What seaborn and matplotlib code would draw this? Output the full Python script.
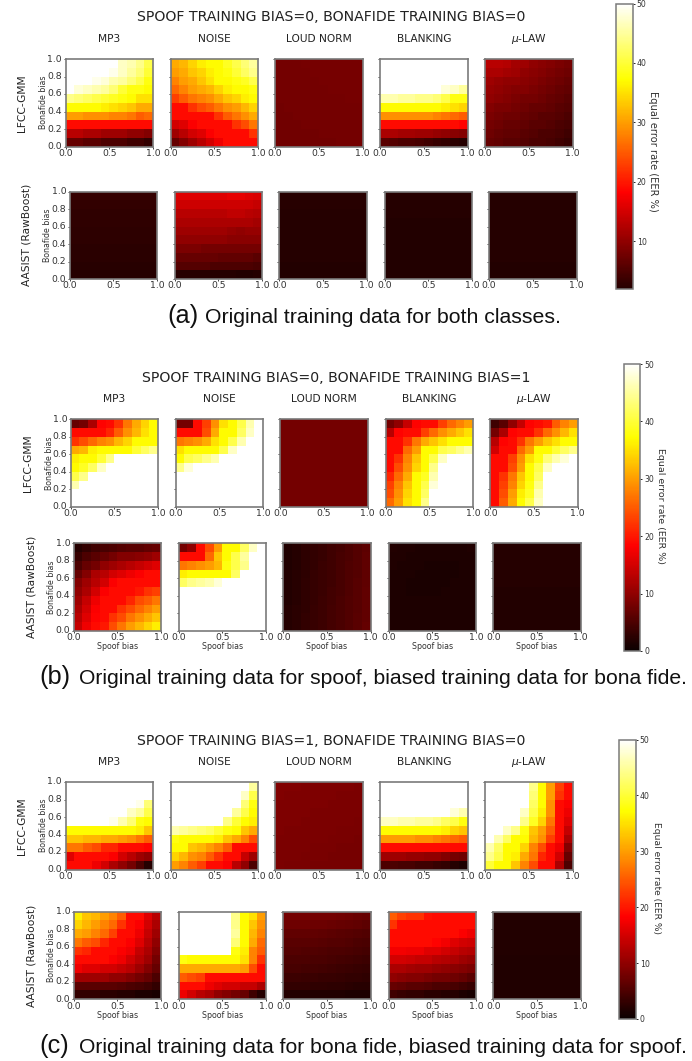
#!/usr/bin/env python3
# plot.py
# Three stacked heatmap grids: EER (%) against spoof / bonafide bias, LFCC-GMM and AASIST, five codecs.

import numpy as np
import seaborn as sns
import matplotlib
matplotlib.use("Agg")
import matplotlib.pyplot as plt

FIG_W, FIG_H = 692, 1061

CODECS = ["MP3", "NOISE", "LOUD NORM", "BLANKING", r"$\mu$-LAW"]
MODELS = ["LFCC-GMM", "AASIST (RawBoost)"]
TITLES = [
    "SPOOF TRAINING BIAS=0, BONAFIDE TRAINING BIAS=0",
    "SPOOF TRAINING BIAS=0, BONAFIDE TRAINING BIAS=1",
    "SPOOF TRAINING BIAS=1, BONAFIDE TRAINING BIAS=0",
]
CAP_TAGS = ["(a)", "(b)", "(c)"]
CAP_TEXT = [
    "Original training data for both classes.",
    "Original training data for spoof, biased training data for bona fide.",
    "Original training data for bona fide, biased training data for spoof.",
]
BIAS_TICKS = ["0.0", "0.2", "0.4", "0.6", "0.8", "1.0"]
BAR_TICKS = [0, 10, 20, 30, 40, 50]

# EER values, rows listed top (bonafide bias 1.0) to bottom, columns spoof bias 0 to 1
# ---- (a) ----
a_lfcc_mp3 = [
    [50, 50, 50, 50, 50, 50, 47, 46, 44, 41],
    [50, 50, 50, 50, 50, 49, 47, 45, 43, 40],
    [50, 50, 50, 49, 48, 46, 45, 43, 41, 38],
    [50, 48, 47, 46, 45, 43, 40, 38, 38, 37],
    [44, 43, 42, 41, 40, 39, 38, 37, 35, 35],
    [37, 37, 37, 37, 36, 35, 34, 33, 31, 31],
    [30, 30, 29, 29, 29, 28, 28, 27, 25, 26],
    [19, 19, 19, 19, 19, 19, 19, 19, 19, 19],
    [13, 13, 12, 12, 11, 11, 11, 10, 10, 9],
    [7, 7, 6, 6, 5, 5, 5, 4, 4, 3],
]
a_lfcc_noise = [
    [31, 32, 34, 36, 37, 37, 39, 41, 43, 45],
    [30, 31, 33, 34, 36, 37, 38, 40, 42, 44],
    [28, 30, 31, 33, 35, 37, 37, 38, 39, 41],
    [26, 28, 30, 31, 32, 34, 36, 37, 37, 38],
    [23, 25, 27, 28, 29, 31, 33, 34, 36, 37],
    [19, 19, 22, 24, 25, 27, 29, 30, 32, 34],
    [19, 19, 19, 19, 19, 22, 25, 27, 29, 31],
    [15, 16, 18, 19, 19, 19, 19, 22, 24, 27],
    [11, 13, 15, 16, 18, 19, 19, 19, 19, 22],
    [7, 9, 11, 13, 15, 17, 19, 19, 19, 19],
]
a_lfcc_loud = [
    [8.0, 8.0, 8.0, 8.1, 8.1, 8.1, 8.2, 8.2, 8.2, 8.2],
    [8.0, 8.0, 8.0, 8.0, 8.1, 8.1, 8.1, 8.2, 8.2, 8.2],
    [7.9, 8.0, 8.0, 8.0, 8.0, 8.1, 8.1, 8.1, 8.1, 8.2],
    [7.9, 7.9, 8.0, 8.0, 8.0, 8.0, 8.1, 8.1, 8.1, 8.1],
    [7.9, 7.9, 7.9, 8.0, 8.0, 8.0, 8.0, 8.0, 8.1, 8.1],
    [7.8, 7.9, 7.9, 7.9, 8.0, 8.0, 8.0, 8.0, 8.0, 8.0],
    [7.8, 7.8, 7.9, 7.9, 7.9, 7.9, 8.0, 8.0, 8.0, 8.0],
    [7.8, 7.8, 7.8, 7.9, 7.9, 7.9, 7.9, 7.9, 8.0, 8.0],
    [7.7, 7.8, 7.8, 7.8, 7.8, 7.9, 7.9, 7.9, 7.9, 7.9],
    [7.7, 7.7, 7.8, 7.8, 7.8, 7.8, 7.8, 7.9, 7.9, 7.9],
]
a_lfcc_blank = [
    [50, 50, 50, 50, 50, 50, 50, 50, 50, 50],
    [50, 50, 50, 50, 50, 50, 50, 50, 50, 50],
    [50, 50, 50, 50, 50, 50, 50, 50, 50, 50],
    [50, 50, 50, 50, 50, 50, 50, 48, 47, 45],
    [46, 46, 45, 45, 44, 44, 43, 41, 38, 38],
    [37, 37, 37, 37, 37, 37, 37, 36, 35, 34],
    [29, 29, 29, 29, 29, 29, 28, 27, 26, 25],
    [19, 19, 19, 19, 19, 19, 19, 19, 19, 18.5],
    [12, 12, 11.5, 11.5, 11, 11, 10.5, 10, 9.5, 9],
    [6, 5.5, 5, 5, 4.5, 4, 3.5, 3, 2.5, 2],
]
a_lfcc_mulaw = [
    [13, 13, 12.5, 11.5, 11, 10, 9.5, 9, 8.5, 8],
    [12, 12, 11.5, 11, 10, 9.5, 9, 8.5, 8, 7.5],
    [11, 10.5, 10, 10, 9.5, 9, 8.5, 8, 7.5, 7],
    [10.5, 10, 9.5, 9, 9, 8.5, 8, 7.5, 7, 6.5],
    [10, 9.5, 9, 8.5, 8, 8, 7.5, 7, 6.5, 6],
    [9, 8.5, 8.5, 8, 7.5, 7, 7, 6.5, 6, 5.5],
    [8.5, 8, 7.5, 7.5, 7, 6.5, 6, 6, 5.5, 5],
    [8, 7.5, 7, 7, 6.5, 6, 6, 5.5, 5, 4.5],
    [7.5, 7, 6.5, 6.5, 6, 5.5, 5, 5, 4.5, 4],
    [7, 6.5, 6, 6, 5.5, 5, 5, 4.5, 4, 3.5],
]
a_aasist_mp3 = [
    [3.2, 3.2, 3.2, 3.2, 3.2, 3.2, 3.2, 3.2, 3.2, 3.2],
    [3.0, 3.0, 3.0, 3.0, 3.0, 3.0, 3.0, 3.0, 3.0, 3.0],
    [2.9, 2.9, 2.9, 2.9, 2.9, 2.9, 2.9, 2.9, 2.9, 2.9],
    [2.8, 2.8, 2.8, 2.8, 2.8, 2.8, 2.8, 2.8, 2.8, 2.8],
    [2.7, 2.7, 2.7, 2.7, 2.7, 2.7, 2.7, 2.7, 2.7, 2.7],
    [2.6, 2.6, 2.6, 2.6, 2.6, 2.6, 2.6, 2.6, 2.6, 2.6],
    [2.5, 2.5, 2.5, 2.5, 2.5, 2.5, 2.5, 2.5, 2.5, 2.5],
    [2.4, 2.4, 2.4, 2.4, 2.4, 2.4, 2.4, 2.4, 2.4, 2.4],
    [2.2, 2.2, 2.2, 2.2, 2.2, 2.2, 2.2, 2.2, 2.2, 2.2],
    [2.0, 2.0, 2.0, 2.0, 2.0, 2.0, 2.0, 2.0, 2.0, 2.0],
]
a_aasist_noise = [
    [16, 16, 16, 16, 16, 16, 16.5, 16.5, 16, 15.5],
    [14.5, 14.5, 14.5, 14.5, 14.5, 14.5, 14.5, 14.5, 14.5, 14],
    [13, 13, 13, 13, 13, 13, 13.5, 13.5, 13, 12.5],
    [12, 12, 12, 12, 12, 12, 12, 12, 12, 11.5],
    [11, 11, 11, 11, 11, 11, 10.5, 10, 10.5, 10.5],
    [10, 10, 10, 10, 10, 10, 9.5, 9.5, 9.5, 9.5],
    [8.5, 8.5, 8.5, 8, 8, 8, 8, 8, 8, 8],
    [7, 7, 7, 7, 7, 6.5, 6.5, 6.5, 6.5, 6],
    [5.5, 5.5, 5.5, 5.5, 5, 5, 5, 5, 5, 4.5],
    [2.2, 2.2, 2.2, 2.2, 2.0, 2.0, 2.0, 1.8, 1.8, 2.0],
]
a_aasist_loud = [
    [2.2, 2.2, 2.2, 2.2, 2.2, 2.2, 2.2, 2.2, 2.2, 2.2],
    [2.2, 2.2, 2.2, 2.2, 2.2, 2.2, 2.2, 2.2, 2.2, 2.2],
    [2.1, 2.1, 2.1, 2.1, 2.1, 2.1, 2.1, 2.1, 2.1, 2.1],
    [2.1, 2.1, 2.1, 2.1, 2.1, 2.1, 2.1, 2.1, 2.1, 2.1],
    [2.1, 2.1, 2.1, 2.1, 2.1, 2.1, 2.1, 2.1, 2.1, 2.1],
    [2.0, 2.0, 2.0, 2.0, 2.0, 2.0, 2.0, 2.0, 2.0, 2.0],
    [2.0, 2.0, 2.0, 2.0, 2.0, 2.0, 2.0, 2.0, 2.0, 2.0],
    [2.0, 2.0, 2.0, 2.0, 2.0, 2.0, 2.0, 2.0, 2.0, 2.0],
    [1.9, 1.9, 1.9, 1.9, 1.9, 1.9, 1.9, 1.9, 1.9, 1.9],
    [1.9, 1.9, 1.9, 1.9, 1.9, 1.9, 1.9, 1.9, 1.9, 1.9],
]
a_aasist_blank = [
    [2.0, 2.0, 2.0, 2.0, 2.0, 2.0, 2.0, 2.0, 2.0, 2.0],
    [2.0, 2.0, 2.0, 2.0, 2.0, 2.0, 2.0, 2.0, 2.0, 2.0],
    [2.0, 2.0, 2.0, 2.0, 2.0, 2.0, 2.0, 2.0, 2.0, 2.0],
    [1.9, 1.9, 1.9, 1.9, 1.9, 1.9, 1.9, 1.9, 1.9, 1.9],
    [1.9, 1.9, 1.9, 1.9, 1.9, 1.9, 1.9, 1.9, 1.9, 1.9],
    [1.9, 1.9, 1.9, 1.9, 1.9, 1.9, 1.9, 1.9, 1.9, 1.9],
    [1.9, 1.9, 1.9, 1.9, 1.9, 1.9, 1.9, 1.9, 1.9, 1.9],
    [1.8, 1.8, 1.8, 1.8, 1.8, 1.8, 1.8, 1.8, 1.8, 1.8],
    [1.8, 1.8, 1.8, 1.8, 1.8, 1.8, 1.8, 1.8, 1.8, 1.8],
    [1.8, 1.8, 1.8, 1.8, 1.8, 1.8, 1.8, 1.8, 1.8, 1.8],
]
a_aasist_mulaw = [
    [2.1, 2.1, 2.1, 2.1, 2.1, 2.1, 2.1, 2.1, 2.1, 2.1],
    [2.1, 2.1, 2.1, 2.1, 2.1, 2.1, 2.1, 2.1, 2.1, 2.1],
    [2.1, 2.1, 2.1, 2.1, 2.1, 2.1, 2.1, 2.1, 2.1, 2.1],
    [2.0, 2.0, 2.0, 2.0, 2.0, 2.0, 2.0, 2.0, 2.0, 2.0],
    [2.0, 2.0, 2.0, 2.0, 2.0, 2.0, 2.0, 2.0, 2.0, 2.0],
    [2.0, 2.0, 2.0, 2.0, 2.0, 2.0, 2.0, 2.0, 2.0, 2.0],
    [2.0, 2.0, 2.0, 2.0, 2.0, 2.0, 2.0, 2.0, 2.0, 2.0],
    [2.0, 2.0, 2.0, 2.0, 2.0, 2.0, 2.0, 2.0, 2.0, 2.0],
    [1.9, 1.9, 1.9, 1.9, 1.9, 1.9, 1.9, 1.9, 1.9, 1.9],
    [1.9, 1.9, 1.9, 1.9, 1.9, 1.9, 1.9, 1.9, 1.9, 1.9],
]
# ---- (b) ----
b_lfcc_mp3 = [
    [7, 8, 12, 18.5, 19, 22, 27, 31, 34, 37],
    [19, 19, 19, 19, 21, 25, 29, 32, 35, 37],
    [22, 24, 26, 28, 29, 32, 34, 37, 37, 37],
    [31, 32, 36, 37, 37, 37, 37, 40, 42, 44],
    [36, 37, 37, 40, 44, 50, 50, 50, 50, 50],
    [37, 39, 42, 47, 50, 50, 50, 50, 50, 50],
    [41, 44, 50, 50, 50, 50, 50, 50, 50, 50],
    [46, 50, 50, 50, 50, 50, 50, 50, 50, 50],
    [50, 50, 50, 50, 50, 50, 50, 50, 50, 50],
    [50, 50, 50, 50, 50, 50, 50, 50, 50, 50],
]
b_lfcc_noise = [
    [8, 8, 19, 23, 29, 35, 37, 41, 46, 50],
    [19, 19, 19, 24, 31, 37, 37, 42, 47, 50],
    [27, 28, 29, 31, 35, 37, 41, 46, 50, 50],
    [35, 37, 37, 37, 37, 41, 47, 50, 50, 50],
    [37, 41, 42, 44, 46, 50, 50, 50, 50, 50],
    [44, 48, 50, 50, 50, 50, 50, 50, 50, 50],
    [50, 50, 50, 50, 50, 50, 50, 50, 50, 50],
    [50, 50, 50, 50, 50, 50, 50, 50, 50, 50],
    [50, 50, 50, 50, 50, 50, 50, 50, 50, 50],
    [50, 50, 50, 50, 50, 50, 50, 50, 50, 50],
]
b_lfcc_loud = [
    [8.0, 8.0, 8.0, 8.0, 8.0, 8.0, 8.0, 8.0, 8.0, 8.0],
    [8.0, 8.0, 8.0, 8.0, 8.0, 8.0, 8.0, 8.0, 8.0, 8.0],
    [8.0, 8.0, 8.0, 8.0, 8.0, 8.0, 8.0, 8.0, 8.0, 8.0],
    [8.0, 8.0, 8.0, 8.0, 8.0, 8.0, 8.0, 8.0, 8.0, 8.0],
    [8.0, 8.0, 8.0, 8.0, 8.0, 8.0, 8.0, 8.0, 8.0, 8.0],
    [7.9, 7.9, 7.9, 8.0, 8.0, 8.0, 8.0, 8.0, 8.0, 8.0],
    [7.9, 7.9, 7.9, 7.9, 8.0, 8.0, 8.0, 8.0, 8.0, 8.0],
    [7.9, 7.9, 7.9, 7.9, 8.0, 8.0, 8.0, 8.0, 8.0, 8.0],
    [7.9, 7.9, 7.9, 7.9, 7.9, 8.0, 8.0, 8.0, 8.0, 8.0],
    [7.9, 7.9, 7.9, 7.9, 7.9, 8.0, 8.0, 8.0, 8.0, 8.0],
]
b_lfcc_blank = [
    [8, 10, 14, 18.5, 19, 19, 23, 26, 28, 30],
    [13, 18.5, 19, 19, 23, 26, 29, 31, 33, 35],
    [19, 19, 22, 27, 31, 33, 35, 37, 37, 37],
    [19, 19, 26, 30, 37, 37, 41, 42, 44, 46],
    [19, 22, 28, 33, 37, 41, 47, 50, 50, 50],
    [19, 24, 29, 34, 37, 44, 50, 50, 50, 50],
    [21, 26, 31, 37, 39, 46, 50, 50, 50, 50],
    [23, 28, 33, 37, 41, 48, 50, 50, 50, 50],
    [24, 29, 34, 37, 42, 50, 50, 50, 50, 50],
    [26, 30, 35, 37, 44, 50, 50, 50, 50, 50],
]
b_lfcc_mulaw = [
    [4, 6, 10, 14, 18.5, 19, 20, 25, 28, 30],
    [8, 12, 18.5, 19, 19, 22, 26, 29, 32, 35],
    [13, 18.5, 19, 22, 27, 30, 33, 35, 37, 37],
    [15, 19, 19, 26, 30, 37, 37, 40, 42, 44],
    [19, 19, 23, 29, 35, 38, 43, 46, 48, 50],
    [19, 19, 24, 30, 37, 41, 47, 50, 50, 50],
    [19, 22, 27, 33, 37, 42, 50, 50, 50, 50],
    [19, 23, 28, 34, 38, 44, 50, 50, 50, 50],
    [19, 24, 30, 36, 39, 46, 50, 50, 50, 50],
    [19, 25, 31, 37, 41, 47, 50, 50, 50, 50],
]
b_aasist_mp3 = [
    [2, 3, 4, 4.5, 5, 5.5, 6, 6, 6.5, 7],
    [3.5, 5, 6, 7, 8, 9, 9, 9.5, 10, 11],
    [5, 7, 8, 10, 11, 12, 13, 14, 15, 16],
    [7, 9, 12, 13, 15, 16, 17, 18, 19, 19],
    [9, 11, 13, 15, 18, 19, 19, 19, 19, 19],
    [10, 12, 15, 18, 19, 19, 19, 20, 22, 23],
    [11, 14, 17, 19, 19, 19, 21, 24, 25, 27],
    [12, 15, 18, 19, 19, 22, 24, 26, 28, 30],
    [13, 16, 18.5, 19, 22, 24, 27, 29, 31, 33],
    [14, 17, 19, 20, 24, 27, 30, 32, 34, 36],
]
b_aasist_noise = [
    [8, 10, 19, 24, 30, 37, 37, 42, 47, 50],
    [19, 19, 19, 26, 33, 37, 41, 45, 50, 50],
    [27, 28, 29, 30, 32, 38, 41, 44, 50, 50],
    [36, 37, 37, 37, 37, 37, 42, 50, 50, 50],
    [42, 44, 45, 46, 48, 50, 50, 50, 50, 50],
    [50, 50, 50, 50, 50, 50, 50, 50, 50, 50],
    [50, 50, 50, 50, 50, 50, 50, 50, 50, 50],
    [50, 50, 50, 50, 50, 50, 50, 50, 50, 50],
    [50, 50, 50, 50, 50, 50, 50, 50, 50, 50],
    [50, 50, 50, 50, 50, 50, 50, 50, 50, 50],
]
b_aasist_loud = [
    [1.6, 2.0, 2.6, 3.0, 3.5, 4.0, 4.4, 5.0, 5.5, 6.2],
    [1.7, 2.1, 2.6, 3.1, 3.5, 4.0, 4.5, 5.0, 5.5, 6.3],
    [1.7, 2.1, 2.7, 3.1, 3.6, 4.0, 4.5, 5.1, 5.6, 6.3],
    [1.8, 2.2, 2.7, 3.2, 3.6, 4.1, 4.5, 5.1, 5.6, 6.4],
    [1.8, 2.2, 2.8, 3.2, 3.7, 4.1, 4.6, 5.2, 5.7, 6.4],
    [1.9, 2.3, 2.8, 3.3, 3.7, 4.2, 4.6, 5.2, 5.7, 6.5],
    [1.9, 2.3, 2.9, 3.3, 3.8, 4.2, 4.7, 5.3, 5.8, 6.5],
    [2.0, 2.4, 2.9, 3.4, 3.8, 4.3, 4.7, 5.3, 5.8, 6.6],
    [2.0, 2.4, 3.0, 3.4, 3.9, 4.3, 4.8, 5.4, 5.9, 6.6],
    [2.1, 2.5, 3.0, 3.5, 3.9, 4.4, 4.8, 5.4, 5.9, 6.7],
]
b_aasist_blank = [
    [1.8, 1.7, 1.6, 1.5, 1.5, 1.4, 1.4, 1.5, 1.5, 1.6],
    [1.7, 1.6, 1.5, 1.5, 1.4, 1.4, 1.4, 1.4, 1.5, 1.5],
    [1.6, 1.5, 1.4, 1.4, 1.3, 1.3, 1.3, 1.3, 1.4, 1.5],
    [1.5, 1.4, 1.4, 1.3, 1.3, 1.3, 1.3, 1.3, 1.4, 1.4],
    [1.5, 1.4, 1.3, 1.3, 1.3, 1.3, 1.3, 1.4, 1.4, 1.4],
    [1.5, 1.4, 1.3, 1.3, 1.3, 1.3, 1.4, 1.4, 1.4, 1.4],
    [1.5, 1.4, 1.4, 1.4, 1.4, 1.4, 1.4, 1.4, 1.4, 1.4],
    [1.5, 1.4, 1.4, 1.4, 1.4, 1.4, 1.4, 1.4, 1.4, 1.4],
    [1.5, 1.4, 1.4, 1.4, 1.4, 1.4, 1.4, 1.4, 1.4, 1.4],
    [1.5, 1.4, 1.4, 1.4, 1.4, 1.4, 1.4, 1.4, 1.4, 1.4],
]
b_aasist_mulaw = [
    [2.0, 2.0, 2.0, 2.0, 2.0, 2.0, 2.0, 2.0, 2.0, 2.0],
    [2.0, 2.0, 2.0, 2.0, 2.0, 2.0, 2.0, 2.0, 2.0, 2.0],
    [2.0, 2.0, 2.0, 2.0, 2.0, 2.0, 2.0, 2.0, 2.0, 2.0],
    [2.0, 2.0, 2.0, 2.0, 2.0, 2.0, 2.0, 2.0, 2.0, 2.0],
    [2.0, 2.0, 2.0, 2.0, 2.0, 2.0, 2.0, 2.0, 2.0, 2.0],
    [1.9, 1.9, 1.9, 1.9, 1.9, 1.9, 1.9, 1.9, 1.9, 1.9],
    [1.9, 1.9, 1.9, 1.9, 1.9, 1.9, 1.9, 1.9, 1.9, 1.9],
    [1.9, 1.9, 1.9, 1.9, 1.9, 1.9, 1.9, 1.9, 1.9, 1.9],
    [1.9, 1.9, 1.9, 1.9, 1.9, 1.9, 1.9, 1.9, 1.9, 1.9],
    [1.9, 1.9, 1.9, 1.9, 1.9, 1.9, 1.9, 1.9, 1.9, 1.9],
]
# ---- (c) ----
c_lfcc_mp3 = [
    [50, 50, 50, 50, 50, 50, 50, 50, 50, 50],
    [50, 50, 50, 50, 50, 50, 50, 50, 50, 50],
    [50, 50, 50, 50, 50, 50, 50, 50, 49, 43],
    [50, 50, 50, 50, 50, 50, 50, 47, 45, 41],
    [50, 50, 50, 50, 50, 49, 46, 43, 38, 37],
    [37, 37, 37, 37, 37, 37, 37, 37, 36, 33],
    [33, 33, 32, 32, 31, 31, 30, 29, 27, 25],
    [27, 27, 25, 24, 21, 21, 19, 19, 19, 18.5],
    [16, 19, 19, 19, 19, 18, 15, 13, 11, 10],
    [19, 19, 19, 17, 15, 12, 10, 8, 5, 2],
]
c_lfcc_noise = [
    [50, 50, 50, 50, 50, 50, 50, 50, 50, 45],
    [50, 50, 50, 50, 50, 50, 50, 50, 47, 41],
    [50, 50, 50, 50, 50, 50, 50, 50, 43, 38],
    [50, 50, 50, 50, 50, 50, 50, 45, 41, 37],
    [50, 50, 50, 50, 50, 50, 44, 40, 37, 36],
    [46, 45, 44, 43, 42, 40, 38, 37, 33, 31],
    [38, 37, 37, 37, 37, 36, 33, 31, 28, 24],
    [37, 37, 33, 32, 30, 28, 25, 19, 19, 19],
    [34, 32, 29, 28, 25, 22, 19, 19, 14, 11],
    [30, 28, 25, 23, 19, 19, 18, 13, 10, 5],
]
c_lfcc_loud = [
    [8.8, 8.8, 8.8, 8.7, 8.7, 8.7, 8.6, 8.6, 8.6, 8.5],
    [8.8, 8.7, 8.7, 8.7, 8.6, 8.6, 8.6, 8.5, 8.5, 8.5],
    [8.7, 8.7, 8.7, 8.6, 8.6, 8.6, 8.5, 8.5, 8.5, 8.4],
    [8.7, 8.6, 8.6, 8.6, 8.5, 8.5, 8.5, 8.4, 8.4, 8.4],
    [8.6, 8.6, 8.6, 8.5, 8.5, 8.5, 8.4, 8.4, 8.4, 8.3],
    [8.6, 8.5, 8.5, 8.5, 8.4, 8.4, 8.4, 8.3, 8.3, 8.3],
    [8.5, 8.5, 8.5, 8.4, 8.4, 8.4, 8.3, 8.3, 8.3, 8.2],
    [8.5, 8.4, 8.4, 8.4, 8.3, 8.3, 8.3, 8.2, 8.2, 8.2],
    [8.4, 8.4, 8.4, 8.3, 8.3, 8.3, 8.2, 8.2, 8.2, 8.1],
    [8.4, 8.3, 8.3, 8.3, 8.2, 8.2, 8.2, 8.1, 8.1, 8.1],
]
c_lfcc_blank = [
    [50, 50, 50, 50, 50, 50, 50, 50, 50, 50],
    [50, 50, 50, 50, 50, 50, 50, 50, 50, 50],
    [50, 50, 50, 50, 50, 50, 50, 50, 50, 50],
    [50, 50, 50, 50, 50, 50, 50, 50, 48, 46],
    [47, 47, 46, 46, 45, 45, 44, 42, 41, 38],
    [37, 37, 37, 37, 37, 37, 37, 36, 34, 33],
    [30, 30, 30, 30, 29, 29, 28, 27, 26, 25],
    [19, 19, 19, 19, 19, 19, 19, 19, 19, 19],
    [11, 11, 11, 10.5, 10.5, 10, 10, 9, 8, 7.5],
    [5, 5, 4.5, 4.5, 4, 4, 3.5, 3, 2, 1.5],
]
c_lfcc_mulaw = [
    [50, 50, 50, 50, 50, 44, 37, 30, 23, 19],
    [50, 50, 50, 50, 50, 43, 37, 30, 22, 19],
    [50, 50, 50, 50, 50, 42, 37, 29, 19, 18],
    [50, 50, 50, 50, 47, 41, 36, 29, 19, 17],
    [50, 50, 50, 50, 44, 39, 34, 27, 19, 16],
    [50, 50, 47, 44, 38, 33, 30, 25, 19, 14],
    [50, 46, 42, 37, 37, 32, 29, 23, 19, 12],
    [46, 42, 37, 37, 34, 28, 24, 19, 17, 9],
    [44, 41, 37, 36, 31, 27, 21, 19, 15, 7],
    [40, 37, 37, 33, 28, 24, 19, 19, 12, 5],
]
c_aasist_mp3 = [
    [36, 33, 32, 30, 28, 25, 19, 19, 16, 13],
    [34, 32, 30, 28, 26, 22, 19, 18, 15, 12],
    [31, 30, 28, 26, 23, 19, 19, 17, 14, 11],
    [27, 25, 24, 21, 19, 19, 18, 16, 13, 10],
    [22, 21, 19, 19, 19, 18, 17, 14, 12, 9],
    [19, 19, 19, 19, 18, 17, 15, 13, 11, 8],
    [17, 16, 16, 15, 15, 14, 13, 11, 9, 7],
    [11, 11, 11, 11, 10, 10, 9, 8, 7, 5],
    [6, 6, 6, 6, 6, 5.5, 5, 4.5, 4, 3],
    [3, 3, 3, 2.5, 2.5, 2, 2, 1.5, 1.5, 1],
]
c_aasist_noise = [
    [50, 50, 50, 50, 50, 50, 44, 37, 35, 30],
    [50, 50, 50, 50, 50, 50, 44, 37, 33, 29],
    [50, 50, 50, 50, 50, 50, 45, 37, 32, 28],
    [50, 50, 50, 50, 50, 50, 43, 37, 31, 26],
    [50, 50, 50, 50, 50, 50, 38, 36, 28, 25],
    [38, 37, 37, 37, 37, 37, 37, 35, 28, 22],
    [31, 31, 31, 31, 31, 31, 31, 30, 24, 19],
    [25, 24, 23, 19, 19, 19, 19, 19, 19, 19],
    [19, 19, 19, 17, 16, 15, 15, 14, 14, 12],
    [17, 15, 13, 12, 10, 9, 8, 7, 4, 2],
]
c_aasist_loud = [
    [8.0, 8.0, 8.0, 8.0, 8.0, 8.0, 7.8, 7.5, 7.2, 7.0],
    [7.5, 7.5, 7.5, 7.4, 7.4, 7.2, 7.0, 6.8, 6.5, 6.2],
    [6.5, 6.5, 6.5, 6.5, 6.4, 6.2, 6.0, 5.8, 5.6, 5.4],
    [6.0, 6.0, 6.0, 5.9, 5.8, 5.6, 5.5, 5.3, 5.0, 4.8],
    [5.5, 5.5, 5.4, 5.3, 5.2, 5.0, 4.9, 4.7, 4.5, 4.3],
    [5.0, 5.0, 4.9, 4.8, 4.7, 4.5, 4.4, 4.2, 4.0, 3.8],
    [4.5, 4.5, 4.4, 4.3, 4.2, 4.0, 3.9, 3.7, 3.5, 3.3],
    [3.8, 3.8, 3.7, 3.6, 3.5, 3.4, 3.3, 3.1, 3.0, 2.8],
    [3.0, 3.0, 3.0, 2.9, 2.8, 2.7, 2.6, 2.5, 2.3, 2.2],
    [1.8, 1.8, 1.8, 1.7, 1.7, 1.6, 1.6, 1.5, 1.5, 1.4],
]
c_aasist_blank = [
    [25, 23, 22, 22, 19.5, 19, 19, 19, 19, 19],
    [22, 19, 19, 19, 19, 19, 19, 19, 19, 19],
    [19, 19, 19, 19, 19, 19, 19, 19, 18, 17],
    [19, 19, 19, 19, 19, 18.5, 17.5, 16, 15, 14.5],
    [17.5, 17.5, 17, 17, 16, 16, 15, 14, 13, 12.5],
    [15, 15, 14.5, 14, 14, 13, 12.5, 12, 11, 10.5],
    [12, 12, 11.5, 11, 11, 10.5, 10, 9.5, 9, 8.5],
    [10, 9.5, 9, 9, 8.5, 8, 8, 7.5, 7, 6],
    [7, 6.5, 6, 6, 5.5, 5, 5, 4.5, 4, 3.5],
    [4, 3.5, 3, 3, 2.5, 2.5, 2, 2, 1.5, 1],
]
c_aasist_mulaw = [
    [1.8, 1.8, 1.8, 1.8, 1.8, 1.8, 1.8, 1.8, 1.8, 1.8],
    [1.8, 1.8, 1.8, 1.8, 1.8, 1.8, 1.8, 1.8, 1.8, 1.8],
    [1.8, 1.8, 1.8, 1.8, 1.8, 1.8, 1.8, 1.8, 1.8, 1.8],
    [1.8, 1.8, 1.8, 1.8, 1.8, 1.8, 1.8, 1.8, 1.8, 1.8],
    [1.8, 1.8, 1.8, 1.8, 1.8, 1.8, 1.8, 1.8, 1.8, 1.8],
    [1.7, 1.7, 1.7, 1.7, 1.7, 1.7, 1.7, 1.7, 1.7, 1.7],
    [1.7, 1.7, 1.7, 1.7, 1.7, 1.7, 1.7, 1.7, 1.7, 1.7],
    [1.7, 1.7, 1.7, 1.7, 1.7, 1.7, 1.7, 1.7, 1.7, 1.7],
    [1.7, 1.7, 1.7, 1.7, 1.7, 1.7, 1.7, 1.7, 1.7, 1.7],
    [1.7, 1.7, 1.7, 1.7, 1.7, 1.7, 1.7, 1.7, 1.7, 1.7],
]

GRID_A = [[a_lfcc_mp3, a_lfcc_noise, a_lfcc_loud, a_lfcc_blank, a_lfcc_mulaw],
          [a_aasist_mp3, a_aasist_noise, a_aasist_loud, a_aasist_blank, a_aasist_mulaw]]
GRID_B = [[b_lfcc_mp3, b_lfcc_noise, b_lfcc_loud, b_lfcc_blank, b_lfcc_mulaw],
          [b_aasist_mp3, b_aasist_noise, b_aasist_loud, b_aasist_blank, b_aasist_mulaw]]
GRID_C = [[c_lfcc_mp3, c_lfcc_noise, c_lfcc_loud, c_lfcc_blank, c_lfcc_mulaw],
          [c_aasist_mp3, c_aasist_noise, c_aasist_loud, c_aasist_blank, c_aasist_mulaw]]

# layout in reference pixels, one entry per sub-figure
PANEL_W = 87.5
PANEL_H = 87.5
LAYOUT = [
    dict(grid=GRID_A, title=(331, 17), top=(59, 191.5),
         lefts=([65.5, 170.5, 275, 380, 485], [69.7, 174.7, 279.3, 384.5, 489]),
         model_x=(21.5, 27), ylab_x=(43, 48), xlabel=False,
         bar=(616, 632.5, 3.5, 289), bar_min=2, bar_lab=(653, 151), bar_font=7.1,
         tag=(167, 323), cap_x=205, cap_size=15.3, tag_size=18.3),
    dict(grid=GRID_B, title=(336, 378), top=(419.3, 543.3),
         lefts=([70.7, 175.7, 280.3, 385.7, 490.3], [73.7, 178.7, 283.3, 388.7, 493.3]),
         model_x=(28, 31), ylab_x=(49, 52), xlabel=True,
         bar=(624, 640, 364, 651), bar_min=0, bar_lab=(660.5, 506), bar_font=6.8,
         tag=(39, 684), cap_x=79, cap_size=15.2, tag_size=18.3),
    dict(grid=GRID_C, title=(331, 741), top=(782, 911.7),
         lefts=([65.5, 170.5, 275, 380, 485], [73.7, 178.7, 283.3, 388.7, 493.3]),
         model_x=(21.5, 31), ylab_x=(43, 52), xlabel=True,
         bar=(619, 635.5, 739.5, 1019), bar_min=0, bar_lab=(656.5, 878), bar_font=6.6,
         tag=(39, 1053), cap_x=79, cap_size=15.2, tag_size=18.3),
]

TEXT_COL = "#333333"
EDGE_COL = "#7a7a7a"


def px_axes(fig, x0, y0, x1, y1):
    """Axes from reference pixel box, y measured from the top."""
    return fig.add_axes([x0 / FIG_W, 1 - y1 / FIG_H, (x1 - x0) / FIG_W, (y1 - y0) / FIG_H])


def stylize(ax, show_y):
    for side in ax.spines.values():
        side.set_visible(True)
        side.set_color(EDGE_COL)
        side.set_linewidth(1.2)
    ax.set_xticks([0, 5, 10])
    ax.set_xticklabels(["0.0", "0.5", "1.0"], rotation=0)
    ax.set_yticks([10, 8, 6, 4, 2, 0])
    ax.set_yticklabels(BIAS_TICKS if show_y else [""] * 6, rotation=0)
    ax.tick_params(length=1.5, width=0.7, color="#444444", labelsize=6.7, pad=1,
                   labelcolor=TEXT_COL, left=True, bottom=True)
    ax.tick_params(axis="x", pad=0.2)


def main():
    sns.set_theme(context="paper", style="white")
    plt.rcParams["font.family"] = ["DejaVu Sans"]

    fig = plt.figure(figsize=(FIG_W / 100, FIG_H / 100), dpi=100)

    for i, block in enumerate(LAYOUT):
        mesh = None
        for r, row in enumerate(block["grid"]):
            y0 = block["top"][r]
            for c, values in enumerate(row):
                x0 = block["lefts"][r][c]
                ax = px_axes(fig, x0, y0, x0 + PANEL_W, y0 + PANEL_H)
                sns.heatmap(np.array(values, dtype=float), ax=ax, cmap="hot",
                            vmin=0, vmax=50, cbar=False)
                mesh = ax.collections[0]
                stylize(ax, c == 0)
                if r == 0:
                    ax.set_title(CODECS[c], fontsize=7.7, color="#222222", pad=12.5)
                if block["xlabel"] and r == 1:
                    ax.set_xlabel("Spoof bias", fontsize=5.7, color=TEXT_COL, labelpad=0)
            # row labels sit at fixed pixel columns, not tied to tick label width
            mid = (y0 + PANEL_H / 2)
            fig.text(block["model_x"][r] / FIG_W, 1 - mid / FIG_H, MODELS[r], rotation=90,
                     ha="center", va="center", fontsize=7.7, color="#222222")
            fig.text(block["ylab_x"][r] / FIG_W, 1 - mid / FIG_H, "Bonafide bias", rotation=90,
                     ha="center", va="center", fontsize=5.7, color=TEXT_COL)

        fig.text(block["title"][0] / FIG_W, 1 - block["title"][1] / FIG_H,
                 TITLES[i], ha="center", va="center", fontsize=10.2, color="#222222")

        # colour bar
        bx0, bx1, by0, by1 = block["bar"]
        cax = px_axes(fig, bx0, by0, bx1, by1)
        cb = fig.colorbar(mesh, cax=cax, ticks=BAR_TICKS)
        cax.set_ylim(block["bar_min"], 50)
        cb.outline.set_edgecolor(EDGE_COL)
        cb.outline.set_linewidth(1.1)
        cax.tick_params(length=1.5, width=0.7, labelsize=5.6, pad=1.5, labelcolor=TEXT_COL)
        fig.text(block["bar_lab"][0] / FIG_W, 1 - block["bar_lab"][1] / FIG_H,
                 "Equal error rate (EER %)", rotation=270, ha="center", va="center",
                 fontsize=block["bar_font"], color=TEXT_COL)

        # caption
        fig.text(block["tag"][0] / FIG_W, 1 - block["tag"][1] / FIG_H, CAP_TAGS[i],
                 family="Liberation Sans", fontsize=block["tag_size"], va="baseline", color="#111111")
        fig.text(block["cap_x"] / FIG_W, 1 - block["tag"][1] / FIG_H, CAP_TEXT[i],
                 family="Liberation Sans", fontsize=block["cap_size"], va="baseline", color="#111111")

    fig.savefig("out.png", dpi=100, facecolor="white")


if __name__ == "__main__":
    main()
